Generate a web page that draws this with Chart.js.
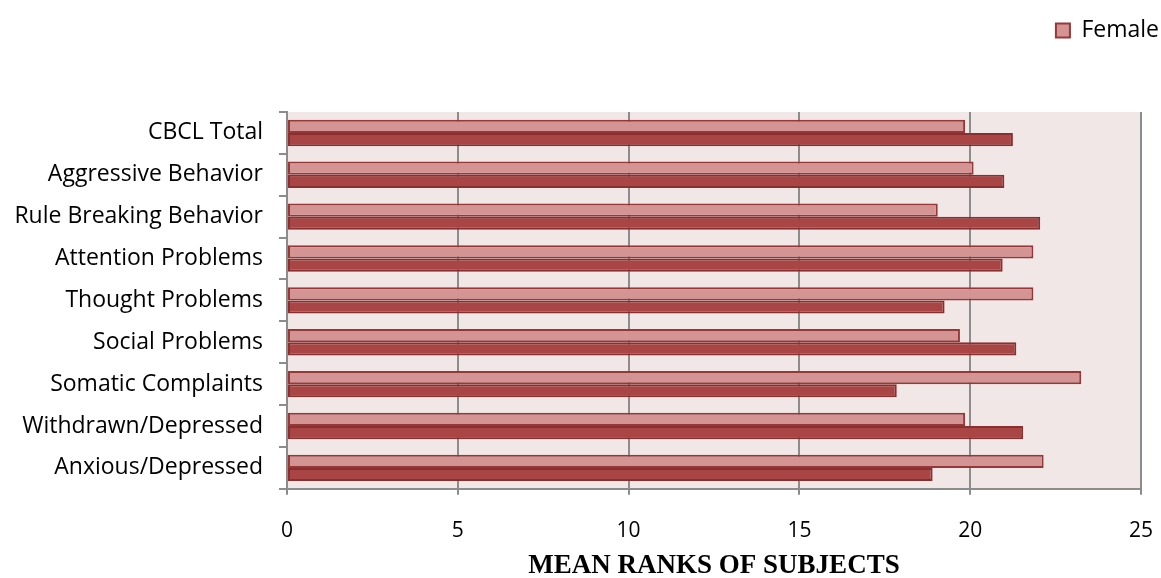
<!DOCTYPE html>
<html>
<head>
<meta charset="utf-8">
<script src="https://cdn.jsdelivr.net/npm/chart.js@4/dist/chart.umd.min.js"></script>
<style>
  html, body { margin: 0; padding: 0; background: #fff; }
  #wrap { width: 1161px; height: 578px; position: relative; }
</style>
</head>
<body>
<div id="wrap"><canvas id="c"></canvas></div>
<script>
// categories, top to bottom
const categories = [
  'CBCL Total',
  'Aggressive Behavior',
  'Rule Breaking Behavior',
  'Attention Problems',
  'Thought Problems',
  'Social Problems',
  'Somatic Complaints',
  'Withdrawn/Depressed',
  'Anxious/Depressed'
];

const female = [19.85, 20.1, 19.05, 21.85, 21.85, 19.7, 23.25, 19.85, 22.15];
const male   = [21.25, 21.0, 22.05, 20.95, 19.25, 21.35, 17.85, 21.55, 18.9];

const xTicks = [0, 5, 10, 15, 20, 25];
const xTitle = 'MEAN RANKS OF SUBJECTS';

// pink plot background
const plotBg = {
  id: 'plotBg',
  beforeDraw(chart) {
    const { ctx, chartArea: a } = chart;
    ctx.save();
    ctx.fillStyle = '#F2E7E7';
    ctx.fillRect(a.left, a.top, a.right - a.left, a.bottom - a.top);
    ctx.restore();
  }
};

// leave room between the legend and the plot, nudge legend to the right edge
const legendGap = {
  id: 'legendGap',
  beforeLayout(chart) {
    const lg = chart.legend;
    if (!lg || lg._gapped) return;
    const fit = lg.fit;
    lg.fit = function () {
      fit.call(this);
      this.height = 101;
    };
    lg._gapped = true;
  },
  afterLayout(chart) {
    const lg = chart.legend;
    if (!lg) return;
    lg.left += 6;
    lg.right += 6;
  }
};

const labelFont = { family: 'Open Sans', size: 23 };
const tickFont = { family: 'Open Sans', size: 21 };

new Chart(document.getElementById('c'), {
  type: 'bar',
  data: {
    labels: categories,
    datasets: [
      {
        label: 'Female',
        data: female,
        backgroundColor: '#D49494',
        borderColor: '#973838',
        borderWidth: 2,
        borderSkipped: false,
        categoryPercentage: 0.63,
        barPercentage: 1.0
      },
      {
        label: 'Male',
        data: male,
        backgroundColor: '#A94545',
        borderColor: '#892F2F',
        borderWidth: 2,
        borderSkipped: false,
        categoryPercentage: 0.63,
        barPercentage: 1.0
      }
    ]
  },
  options: {
    indexAxis: 'y',
    responsive: true,
    maintainAspectRatio: false,
    animation: false,
    layout: { padding: { top: 11, left: 0, right: 0, bottom: 0 } },
    plugins: {
      legend: {
        position: 'top',
        align: 'end',
        labels: {
          font: labelFont,
          color: '#000',
          boxWidth: 14,
          boxHeight: 14,
          padding: 8,
          filter: item => item.text === 'Female'
        }
      },
      tooltip: { enabled: false }
    },
    scales: {
      x: {
        min: 0,
        max: 25,
        afterBuildTicks(axis) { axis.ticks = xTicks.map(v => ({ value: v })); },
        afterFit(axis) { axis.paddingRight = 20; },
        ticks: { font: tickFont, color: '#000', padding: 24 },
        grid: { color: '#8C8C8C', lineWidth: 2, tickLength: 6, drawTicks: true },
        border: { color: '#8C8C8C', width: 2 },
        title: {
          display: true,
          text: xTitle,
          color: '#000',
          font: { family: 'Liberation Serif', size: 27, weight: 'bold', lineHeight: 0.85 },
          padding: { top: -13, bottom: 0 }
        }
      },
      y: {
        ticks: { font: labelFont, color: '#000', padding: 16 },
        grid: { drawOnChartArea: false, color: '#8C8C8C', lineWidth: 2, tickLength: 8, offset: true },
        border: { color: '#8C8C8C', width: 2 },
        afterFit(axis) { axis.width = 287; }
      }
    }
  },
  plugins: [plotBg, legendGap]
});
</script>
</body>
</html>
